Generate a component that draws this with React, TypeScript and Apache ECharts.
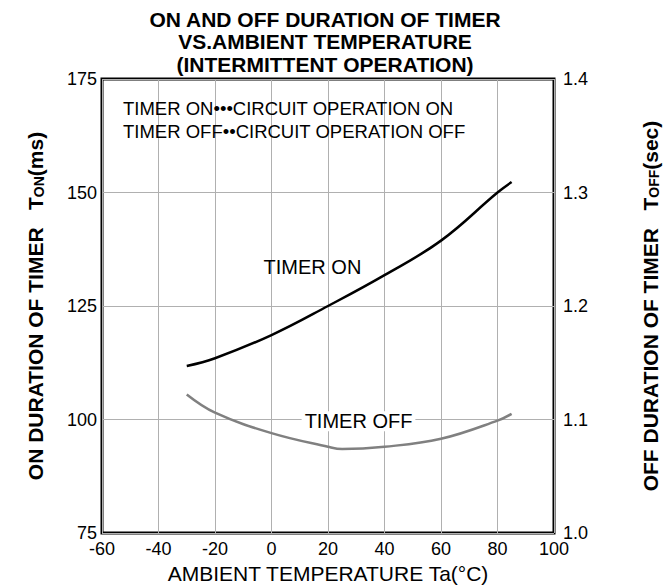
import React, { useEffect, useRef } from "react";
import * as echarts from "echarts";

const titleLines = [
  "ON AND OFF DURATION OF TIMER",
  "VS.AMBIENT TEMPERATURE",
  "(INTERMITTENT OPERATION)",
];
const noteLines = [
  "TIMER ON\u2022\u2022\u2022CIRCUIT OPERATION ON",
  "TIMER OFF\u2022\u2022CIRCUIT OPERATION OFF",
];
const xTicks = { min: -60, max: 100, interval: 20 };
const leftTicks = { min: 75, max: 175, interval: 25 };
const rightTicks = { min: 1.0, max: 1.4, interval: 0.1 };

const tempOn = [-30, -20, 0, 20, 40, 60, 80, 85];
const timerOn = [111.8, 113.5, 118.6, 125, 131.8, 139.4, 150, 152.3];
const tempOff = [-30, -20, 0, 20, 25, 40, 60, 80, 85];
const timerOff = [1.122, 1.106, 1.088, 1.076, 1.074, 1.076, 1.083, 1.099, 1.105];

const FONT = "'Liberation Sans', Arial, Helvetica, sans-serif";

export default function App() {
  const ref = useRef<HTMLDivElement>(null);
  useEffect(() => {
    document.body.style.margin = "0";
    const chart = echarts.init(ref.current!, null, { renderer: "svg" });
    const gridL = 102, gridR = 117, gridT = 79, gridB = 52;
    const richName = {
      b: { fontSize: 21, fontWeight: "bold", fontFamily: FONT, lineHeight: 23, verticalAlign: "bottom" },
      s: { fontSize: 14, fontWeight: "bold", fontFamily: FONT, lineHeight: 23, verticalAlign: "bottom" },
    };
    chart.setOption({
      animation: false,
      textStyle: { fontFamily: FONT, color: "#000" },
      grid: {
        left: gridL, right: gridR, top: gridT, bottom: gridB,
        outerBoundsMode: "none", containLabel: false,
        show: true, borderColor: "#000", borderWidth: 3, backgroundColor: "transparent",
      },
      xAxis: {
        type: "value", ...xTicks,
        axisLine: { show: false }, axisTick: { show: false },
        splitLine: { show: true, lineStyle: { color: "#b0b0b0", width: 1 } },
        axisLabel: { color: "#000", fontSize: 18, margin: 7, fontFamily: FONT },
        name: "AMBIENT TEMPERATURE Ta(\u00B0C)", nameLocation: "middle", nameGap: 28,
        nameTextStyle: { color: "#000", fontSize: 21, fontFamily: FONT },
      },
      yAxis: [
        {
          type: "value", ...leftTicks, position: "left",
          axisLine: { show: false }, axisTick: { show: false },
          splitLine: { show: true, lineStyle: { color: "#b0b0b0", width: 1 } },
          axisLabel: { color: "#000", fontSize: 18, margin: 5, fontFamily: FONT },
          name: "{b|ON DURATION OF TIMER   T}{s|ON}{b|(ms)}",
          nameLocation: "middle", nameGap: 56, nameRotate: 90,
          nameTextStyle: { color: "#000", fontFamily: FONT, rich: richName },
        },
        {
          type: "value", ...rightTicks, position: "right",
          axisLine: { show: false }, axisTick: { show: false },
          splitLine: { show: false },
          axisLabel: { color: "#000", fontSize: 18, margin: 9, fontFamily: FONT, formatter: (v: number) => v.toFixed(1) },
          name: "{b|OFF DURATION OF TIMER   T}{s|OFF}{b|(sec)}",
          nameLocation: "middle", nameGap: 84, nameRotate: 90,
          nameTextStyle: { color: "#000", fontFamily: FONT, rich: richName },
        },
      ],
      series: [
        {
          name: "TIMER ON", type: "line", smooth: 0.4, showSymbol: false, yAxisIndex: 0,
          data: tempOn.map((t, i) => [t, timerOn[i]]),
          lineStyle: { color: "#000", width: 2.5 }, z: 3,
        },
        {
          name: "TIMER OFF", type: "line", smooth: 0.4, showSymbol: false, yAxisIndex: 1,
          data: tempOff.map((t, i) => [t, timerOff[i]]),
          lineStyle: { color: "#808080", width: 2.5 }, z: 3,
        },
      ],
    });
    const onPos = chart.convertToPixel({ xAxisIndex: 0, yAxisIndex: 0 }, [14.5, 133.5]) as number[];
    const offPos = chart.convertToPixel({ xAxisIndex: 0, yAxisIndex: 1 }, [30.8, 1.0985]) as number[];
    chart.setOption({
      graphic: [
        ...titleLines.map((t, i) => ({
          type: "text", x: 325, y: 19 + i * 22.5, z: 10,
          style: { text: t, fontSize: 21, fontWeight: "bold", fontFamily: FONT, fill: "#000", textAlign: "center", textVerticalAlign: "middle" },
        })),
        ...noteLines.map((t, i) => ({
          type: "text", x: 123, y: 108 + i * 23, z: 10,
          style: { text: t, fontSize: 18.5, fontFamily: FONT, fill: "#000", textAlign: "left", textVerticalAlign: "middle" },
        })),
        {
          type: "text", x: onPos[0], y: onPos[1], z: 10,
          style: { text: "TIMER ON", fontSize: 20, fontFamily: FONT, fill: "#000", textAlign: "center", textVerticalAlign: "middle" },
        },
        {
          type: "text", x: offPos[0], y: offPos[1], z: 10,
          style: {
            text: "TIMER OFF", fontSize: 20, fontFamily: FONT, fill: "#000", textAlign: "center", textVerticalAlign: "middle",
            backgroundColor: "#fff", padding: [0, 3],
          },
        },
      ],
    });
    return () => chart.dispose();
  }, []);
  return <div ref={ref} style={{ width: 671, height: 585 }} />;
}
